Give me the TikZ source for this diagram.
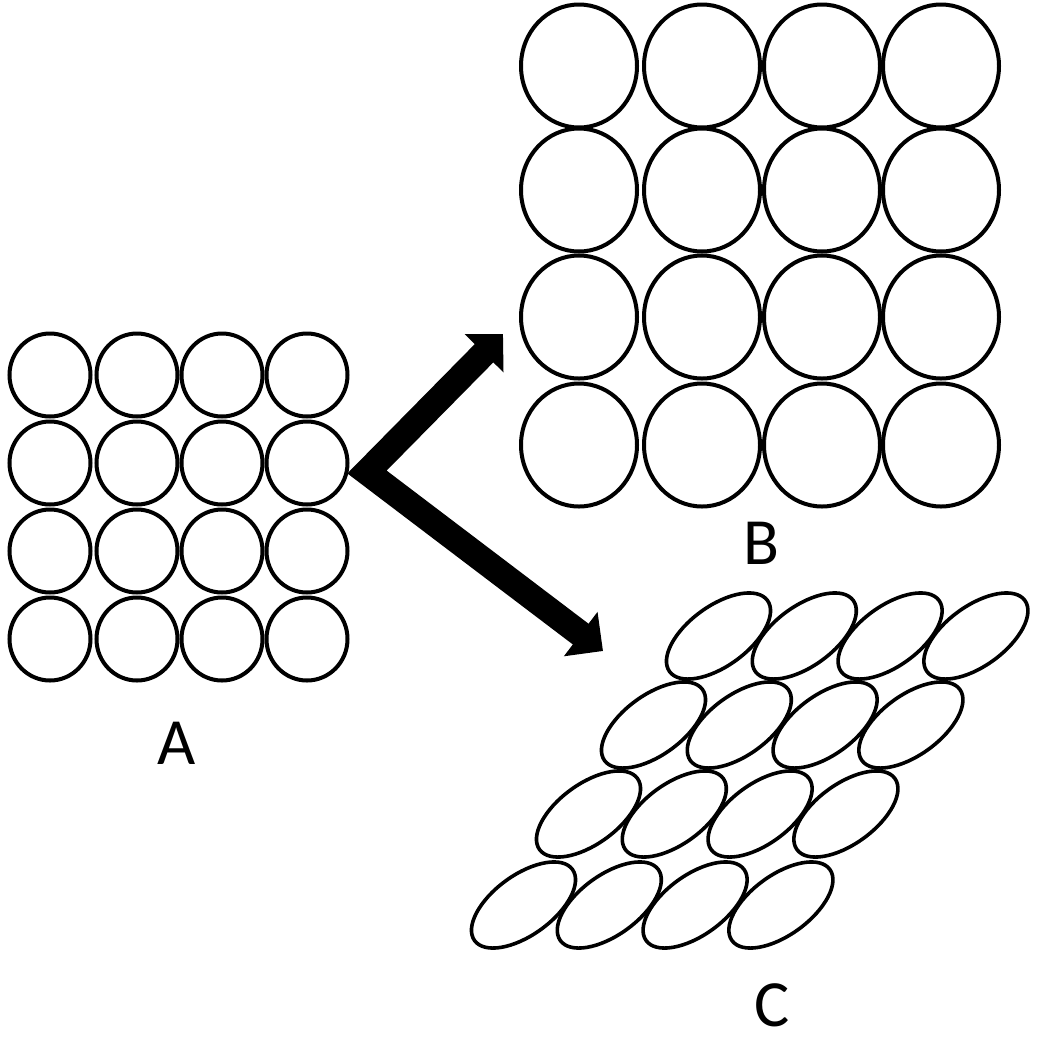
\documentclass[tikz,border=0pt]{standalone}
\usepackage{fontspec}
\setmainfont{Carlito}
\usetikzlibrary{arrows.meta}
\begin{document}
\begin{tikzpicture}[x=1pt,y=-1pt,
  cellA/.style={draw=black,line width=4pt},
  cellB/.style={draw=black,line width=4pt},
  cellC/.style={draw=black,line width=3.6pt},
  bigarrow/.style={line width=26pt,line join=miter,miter limit=20,
    {Triangle[length=27pt,width=53pt]}-{Triangle[length=28pt,width=54pt]}},
  lbl/.style={inner sep=0pt,font=\fontsize{66}{70}\selectfont}]
\fill[white] (0,0) rectangle (1050,1037);
\useasboundingbox (0,0) rectangle (1050,1037);
% grid A
\foreach \x in {50,137,222,307}
  \foreach \y in {375,463,551,639}
    \path[cellA] (\x,\y) ellipse [x radius=40.5pt, y radius=41.5pt];
% grid B
\foreach \x in {579,702,822,941}
  \foreach \y in {66,190,317,445}
    \path[cellB] (\x,\y) ellipse [x radius=58pt, y radius=61.5pt];
% grid C
\foreach \y/\xs in {636/718.5,725/653.5,814/588.5,905/523.5}
  \foreach \k in {0,...,3}
    \path[cellC,shift={(\xs+85.8*\k,\y)},rotate=36] (0,0) ellipse [x radius=60.5pt, y radius=30pt];
% arrows
\coordinate (v) at (367,472);
\coordinate (tb) at (503,334);
\coordinate (tc) at (603,651);
\draw[bigarrow] (tb) -- (v) -- (tc);
% labels
\node[lbl] (labA) at (177,743) {A};
\node[lbl] (labB) at (761,543) {B};
\node[lbl] (labC) at (772,1005) {C};
\end{tikzpicture}
\end{document}
